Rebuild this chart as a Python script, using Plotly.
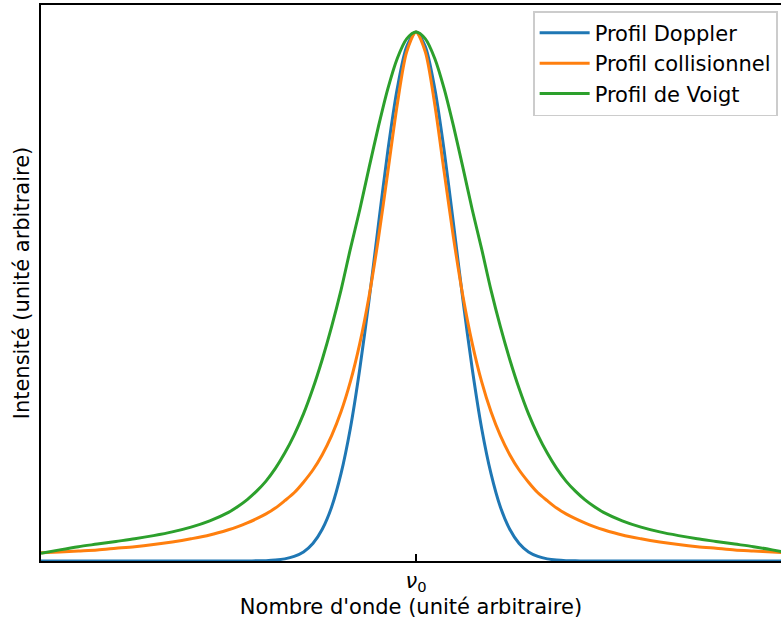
import plotly.graph_objects as go

# Wavenumber offset from line centre (arbitrary units)
x_vals = [-10, -9.5, -9, -8.5, -8, -7.5, -7, -6.5, -6, -5.5, -5,
          -4.75, -4.5, -4.25, -4, -3.75, -3.5, -3.25,
          -3, -2.75, -2.5, -2.25, -2, -1.75, -1.5, -1.25, -1, -0.75, -0.5, -0.25,
          0,
          0.25, 0.5, 0.75, 1, 1.25, 1.5, 1.75, 2, 2.25, 2.5, 2.75, 3,
          3.25, 3.5, 3.75, 4, 4.25, 4.5, 4.75,
          5, 5.5, 6, 6.5, 7, 7.5, 8, 8.5, 9, 9.5, 10]

doppler = [0, 0, 0, 0, 0, 0, 0, 0, 0, 0, 0,
           0, 0.0001, 0.0003, 0.0007, 0.0018, 0.0040, 0.0086,
           0.017, 0.033, 0.060, 0.102, 0.165, 0.251, 0.363, 0.494, 0.637, 0.776, 0.893, 0.972,
           1.0,
           0.972, 0.893, 0.776, 0.637, 0.494, 0.363, 0.251, 0.165, 0.102, 0.060, 0.033, 0.017,
           0.0086, 0.0040, 0.0018, 0.0007, 0.0003, 0.0001, 0,
           0, 0, 0, 0, 0, 0, 0, 0, 0, 0, 0]

collision = [0.0155, 0.017, 0.019, 0.021, 0.024, 0.027, 0.031, 0.036, 0.042, 0.049, 0.059,
             0.065, 0.072, 0.080, 0.089, 0.100, 0.114, 0.129,
             0.149, 0.172, 0.201, 0.237, 0.282, 0.339, 0.411, 0.501, 0.611, 0.736, 0.863, 0.962,
             1.0,
             0.962, 0.863, 0.736, 0.611, 0.501, 0.411, 0.339, 0.282, 0.237, 0.201, 0.172, 0.149,
             0.129, 0.114, 0.100, 0.089, 0.080, 0.072, 0.065,
             0.059, 0.049, 0.042, 0.036, 0.031, 0.027, 0.024, 0.021, 0.019, 0.017, 0.0155]

voigt = [0.0145, 0.021, 0.027, 0.032, 0.037, 0.042, 0.048, 0.055, 0.064, 0.076, 0.092,
         0.103, 0.116, 0.132, 0.151, 0.175, 0.204, 0.238,
         0.278, 0.326, 0.381, 0.443, 0.512, 0.590, 0.664, 0.744, 0.822, 0.893, 0.950, 0.987,
         1.0,
         0.987, 0.950, 0.893, 0.822, 0.744, 0.664, 0.590, 0.512, 0.443, 0.381, 0.326, 0.278,
         0.238, 0.204, 0.175, 0.151, 0.132, 0.116, 0.103,
         0.092, 0.076, 0.064, 0.055, 0.048, 0.042, 0.037, 0.032, 0.027, 0.021, 0.0145]

series_names = ["Profil Doppler", "Profil collisionnel", "Profil de Voigt"]
colors = ["#1f77b4", "#ff7f0e", "#2ca02c"]

tick_vals = [0]
tick_text = ["<i>ν</i><sub>0</sub>"]

FONT = "DejaVu Sans, Verdana, sans-serif"
FS = 21

fig = go.Figure()
for name, ys, c in zip(series_names, [doppler, collision, voigt], colors):
    fig.add_trace(go.Scatter(x=x_vals, y=ys, mode="lines", name=name,
                             line=dict(color=c, width=3, shape="spline", smoothing=0.8),
                             hoverinfo="skip"))

fig.update_layout(
    width=781, height=622,
    margin=dict(l=41, r=0, t=5, b=61),
    paper_bgcolor="white", plot_bgcolor="white",
    font=dict(family=FONT, size=FS, color="black"),
    showlegend=True,
    legend=dict(x=0.996, y=0.989, xanchor="right", yanchor="top",
                bgcolor="rgba(255,255,255,0.8)", bordercolor="#cccccc", borderwidth=1.6,
                font=dict(family=FONT, size=FS, color="black"),
                tracegroupgap=0, itemwidth=50),
)

fig.update_xaxes(range=[-10, 9.733], showgrid=False, zeroline=False,
                 showline=True, linecolor="black", linewidth=1.6, mirror=True,
                 ticks="inside", ticklen=7, tickwidth=1.6, tickcolor="black",
                 tickvals=tick_vals, ticktext=tick_text,
                 tickfont=dict(family=FONT, size=FS),
                 title=dict(text="Nombre d'onde (unité arbitraire)", standoff=4,
                            font=dict(family=FONT, size=FS)))
fig.update_yaxes(range=[0, 1.051], showgrid=False, zeroline=False,
                 showline=True, linecolor="black", linewidth=1.6, mirror=False,
                 ticks="", showticklabels=False,
                 title=dict(text="Intensité (unité arbitraire)", standoff=4,
                            font=dict(family=FONT, size=FS)))

fig.write_html("out.html", config={"displayModeBar": False},
               post_script="document.body.style.margin='0';")
